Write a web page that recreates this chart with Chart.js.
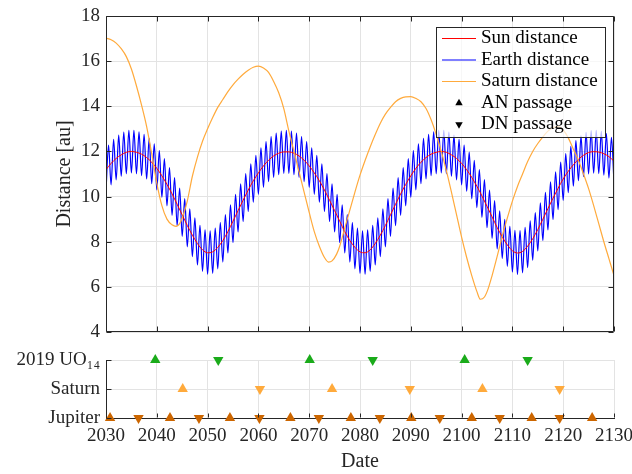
<!DOCTYPE html>
<html>
<head>
<meta charset="utf-8">
<script src="https://cdn.jsdelivr.net/npm/chart.js@4.4.1/dist/chart.umd.min.js"></script>
<style>
  html, body { margin: 0; padding: 0; background: #fff; }
  #wrap { position: relative; width: 632px; height: 474px; }
  canvas { position: absolute; left: 0; }
  #distChart { top: 0; }
  #passChart { top: 340px; }
</style>
</head>
<body>
<div id="wrap">
  <canvas id="distChart" width="632" height="340"></canvas>
  <canvas id="passChart" width="632" height="134"></canvas>
</div>
<script>
// ---- data ----
const firstYear = 2030;
const lastYear = 2130;
const xTicks = [2030, 2040, 2050, 2060, 2070, 2080, 2090, 2100, 2110, 2120, 2130];
const yTicks = [4, 6, 8, 10, 12, 14, 16, 18];

// heliocentric distance, one value per year 2030..2130
const sunDist = [
  11.19, 11.47, 11.69, 11.85, 11.96, 12.00, 11.96, 11.88, 11.73, 11.52,
  11.25, 10.92, 10.54, 10.12, 9.66, 9.19, 8.72, 8.29, 7.92, 7.64,
  7.51, 7.55, 7.75, 8.05, 8.45, 8.91, 9.38, 9.84, 10.29, 10.70,
  11.05, 11.36, 11.61, 11.80, 11.92, 11.98, 11.98, 11.92, 11.80, 11.61,
  11.36, 11.05, 10.70, 10.29, 9.84, 9.38, 8.91, 8.45, 8.05, 7.75,
  7.55, 7.51, 7.64, 7.92, 8.29, 8.72, 9.19, 9.66, 10.12, 10.54,
  10.92, 11.25, 11.52, 11.73, 11.88, 11.96, 12.00, 11.96, 11.85, 11.69,
  11.47, 11.19, 10.85, 10.46, 10.03, 9.57, 9.10, 8.63, 8.21, 7.86,
  7.60, 7.50, 7.57, 7.80, 8.13, 8.54, 9.00, 9.47, 9.93, 10.37,
  10.78, 11.12, 11.41, 11.65, 11.83, 11.95, 11.99, 11.97, 11.90, 11.77,
  11.57
];

// geocentric distance, one value per half year 2030..2130
const earthStep = 0.5;
const earthDist = [
  10.24, 12.28, 10.52, 12.53, 10.74, 12.72, 10.90, 12.86, 11.01, 12.93,
  11.05, 12.93, 11.01, 12.87, 10.93, 12.76, 10.78, 12.58, 10.57, 12.34,
  10.30, 12.04, 9.97, 11.68, 9.59, 11.28, 9.17, 10.84, 8.71, 10.38,
  8.24, 9.91, 7.77, 9.46, 7.34, 9.06, 6.97, 8.73, 6.69, 8.53,
  6.56, 8.48, 6.60, 8.60, 6.80, 8.85, 7.10, 9.20, 7.50, 9.63,
  7.96, 10.10, 8.43, 10.56, 8.89, 11.02, 9.34, 11.45, 9.75, 11.83,
  10.10, 12.16, 10.41, 12.44, 10.66, 12.66, 10.85, 12.81, 10.97, 12.90,
  11.03, 12.93, 11.03, 12.90, 10.97, 12.81, 10.85, 12.66, 10.66, 12.44,
  10.41, 12.16, 10.10, 11.83, 9.75, 11.45, 9.34, 11.02, 8.89, 10.56,
  8.43, 10.10, 7.96, 9.63, 7.50, 9.20, 7.10, 8.85, 6.80, 8.60,
  6.60, 8.48, 6.56, 8.53, 6.69, 8.73, 6.97, 9.06, 7.34, 9.46,
  7.77, 9.91, 8.24, 10.38, 8.71, 10.84, 9.17, 11.28, 9.59, 11.68,
  9.97, 12.04, 10.30, 12.34, 10.57, 12.58, 10.78, 12.76, 10.93, 12.87,
  11.01, 12.93, 11.05, 12.93, 11.01, 12.86, 10.90, 12.72, 10.74, 12.53,
  10.52, 12.28, 10.24, 11.97, 9.90, 11.61, 9.51, 11.20, 9.08, 10.75,
  8.62, 10.29, 8.15, 9.82, 7.68, 9.37, 7.26, 8.99, 6.91, 8.68,
  6.65, 8.50, 6.55, 8.49, 6.62, 8.64, 6.85, 8.92, 7.18, 9.29,
  7.59, 9.72, 8.05, 10.19, 8.52, 10.65, 8.98, 11.10, 9.42, 11.53,
  9.83, 11.90, 10.17, 12.22, 10.46, 12.48, 10.70, 12.69, 10.88, 12.84,
  11.00, 12.92, 11.04, 12.93, 11.02, 12.89, 10.95, 12.79, 10.82, 12.62,
  10.62
];

const saturnYears = [
  2030, 2031, 2032, 2033, 2034, 2035, 2036, 2037, 2038, 2039, 2040, 2041, 2042, 2043,
  2043.8, 2044.5, 2045.3,
  2046, 2047, 2048, 2049, 2050, 2051, 2052, 2053, 2054, 2055, 2056, 2057, 2058, 2059,
  2060, 2061, 2062, 2063, 2064, 2065, 2066, 2067, 2068, 2069, 2070, 2071, 2072, 2073,
  2073.8, 2074.5, 2075.4,
  2076, 2077, 2078, 2079, 2080, 2081, 2082, 2083, 2084, 2085, 2086, 2087, 2088, 2089,
  2090, 2091, 2092, 2093, 2094, 2095, 2096, 2097, 2098, 2099, 2100, 2101, 2102, 2103,
  2103.7, 2104.5, 2105.2,
  2106, 2107, 2108, 2109, 2110, 2111, 2112, 2113, 2114, 2115, 2116, 2117, 2118, 2119,
  2120, 2121, 2122, 2123, 2124, 2125, 2126, 2127, 2128, 2129, 2130
];
const saturnDist = [
  17.02, 16.95, 16.80, 16.55, 16.20, 15.65, 14.90, 14.05, 13.10, 11.90, 10.60, 9.60, 9.00, 8.75,
  8.68, 8.80, 9.25,
  9.80, 10.90, 11.75, 12.45, 13.00, 13.50, 13.95, 14.30, 14.65, 14.95, 15.20, 15.42, 15.60, 15.73,
  15.78, 15.70, 15.50, 15.10, 14.60, 13.90, 12.90, 12.00, 11.10, 10.20, 9.30, 8.45, 7.80, 7.30,
  7.10, 7.15, 7.45,
  7.80, 8.60, 9.40, 10.20, 10.95, 11.60, 12.20, 12.75, 13.25, 13.65, 13.95, 14.20, 14.35, 14.42,
  14.43, 14.35, 14.20, 13.90, 13.40, 12.75, 12.00, 11.15, 10.20, 9.20, 8.20, 7.30, 6.50, 5.80,
  5.45, 5.55, 5.90,
  6.50, 7.35, 8.25, 9.05, 9.80, 10.45, 11.00, 11.55, 12.00, 12.35, 12.65, 12.90, 13.05, 13.10,
  12.95, 12.60, 12.10, 11.60, 11.00, 10.35, 9.60, 8.80, 8.00, 7.25, 6.50
];

// node passages (year)
const levelLabels = ['Jupiter', 'Saturn', '2019 UO\u2081\u2084'];
const uoAN = [2039.7, 2070.1, 2100.6];
const uoDN = [2052.1, 2082.5, 2113.0];
const saturnAN = [2045.1, 2074.5, 2104.1];
const saturnDN = [2060.3, 2089.8, 2119.3];
const jupiterAN = [2030.8, 2042.6, 2054.4, 2066.3, 2078.2, 2090.1, 2102.0, 2113.8, 2125.7];
const jupiterDN = [2036.4, 2048.3, 2060.2, 2071.9, 2083.9, 2095.7, 2107.5, 2119.3];

const legendLabels = ['Sun distance', 'Earth distance', 'Saturn distance', 'AN passage', 'DN passage'];

// ---- styles ----
const axisColor = '#262626';
const gridColor = '#e3e3e3';
const sunColor = '#ff0000';
const earthColor = '#0000ff';
const saturnColor = '#ffaa3c';
const uoColor = '#1aab1a';
const jupiterColor = '#cc6600';

Chart.defaults.font.family = "'Liberation Serif', 'Times New Roman', serif";
Chart.defaults.color = axisColor;

function tri(ctx, x, y, r, down) {
  const s = down ? -1 : 1;
  ctx.beginPath();
  ctx.moveTo(x, y - s * r);
  ctx.lineTo(x + r * 0.866, y + s * r / 2);
  ctx.lineTo(x - r * 0.866, y + s * r / 2);
  ctx.closePath();
  ctx.fill();
}

// box + inward ticks of the upper axes
const frameTop = {
  id: 'frameTop',
  afterDatasetsDraw(chart) {
    const {ctx, chartArea: a, scales} = chart;
    ctx.save();
    ctx.strokeStyle = axisColor;
    ctx.lineWidth = 1;
    ctx.beginPath();
    const L = Math.round(a.left) + 0.5, R = Math.round(a.right) - 0.5;
    const T = Math.round(a.top) + 0.5, B = Math.round(a.bottom) - 0.5;
    ctx.rect(L, T, R - L, B - T);
    xTicks.forEach(v => {
      const px = Math.round(scales.x.getPixelForValue(v)) + 0.5;
      ctx.moveTo(px, B); ctx.lineTo(px, B - 5);
      ctx.moveTo(px, T); ctx.lineTo(px, T + 5);
    });
    yTicks.forEach(v => {
      const py = Math.round(scales.y.getPixelForValue(v)) + 0.5;
      ctx.moveTo(L, py); ctx.lineTo(L + 5, py);
      ctx.moveTo(R, py); ctx.lineTo(R - 5, py);
    });
    ctx.stroke();
    ctx.restore();
  }
};

const legendBox = {
  id: 'legendBox',
  afterDraw(chart) {
    const {ctx, chartArea: a} = chart;
    const w = 169, h = 110;
    const left = Math.round(a.right) - 9 - w;
    const top = Math.round(a.top) + 11;
    ctx.save();
    ctx.fillStyle = 'rgba(255,255,255,0.72)';
    ctx.fillRect(left, top, w, h);
    ctx.strokeStyle = axisColor;
    ctx.lineWidth = 1;
    ctx.strokeRect(left + 0.5, top + 0.5, w, h);
    const lineColors = [sunColor, earthColor, saturnColor];
    ctx.font = "19px 'Liberation Serif', serif";
    ctx.textBaseline = 'middle';
    legendLabels.forEach((txt, i) => {
      const y = top + 11.5 + i * 21.5;
      if (i < 3) {
        ctx.strokeStyle = lineColors[i];
        ctx.lineWidth = i === 2 ? 1.2 : 1.1;
        ctx.beginPath();
        ctx.moveTo(left + 6, y);
        ctx.lineTo(left + 40, y);
        ctx.stroke();
      } else {
        ctx.fillStyle = '#000';
        tri(ctx, left + 23, y, 4.3, i === 4);
      }
      ctx.fillStyle = '#000';
      ctx.fillText(txt, left + 45, y);
    });
    ctx.restore();
  }
};

// left and bottom inward ticks of the lower axes
const frameBottom = {
  id: 'frameBottom',
  afterDatasetsDraw(chart) {
    const {ctx, chartArea: a, scales} = chart;
    ctx.save();
    ctx.strokeStyle = axisColor;
    ctx.lineWidth = 1;
    ctx.beginPath();
    const L = Math.round(a.left) + 0.5, B = Math.round(a.bottom) - 0.5;
    xTicks.forEach(v => {
      const px = Math.round(scales.x.getPixelForValue(v)) + 0.5;
      ctx.moveTo(px, B); ctx.lineTo(px, B - 4);
    });
    levelLabels.forEach((lab, i) => {
      const py = Math.round(scales.y.getPixelForValue(i)) + 0.5;
      ctx.moveTo(L, py); ctx.lineTo(L + 5, py);
    });
    ctx.stroke();
    ctx.restore();
  }
};

// ---- upper chart: distances ----
new Chart(document.getElementById('distChart'), {
  type: 'line',
  data: {
    datasets: [
      {
        label: 'Saturn distance',
        data: saturnYears.map((x, i) => ({x, y: saturnDist[i]})),
        borderColor: saturnColor, borderWidth: 1.2, pointRadius: 0,
        cubicInterpolationMode: 'monotone'
      },
      {
        label: 'Sun distance',
        data: sunDist.map((y, i) => ({x: firstYear + i, y})),
        borderColor: sunColor, borderWidth: 1, pointRadius: 0,
        cubicInterpolationMode: 'monotone'
      },
      {
        label: 'Earth distance',
        data: earthDist.map((y, i) => ({x: firstYear + i * earthStep, y})),
        borderColor: earthColor, borderWidth: 1.2, pointRadius: 0,
        cubicInterpolationMode: 'monotone'
      }
    ]
  },
  options: {
    responsive: false,
    animation: false,
    events: [],
    layout: {padding: {top: 16, right: 18, left: 0, bottom: 0}},
    scales: {
      x: {
        type: 'linear', min: firstYear, max: lastYear,
        ticks: {display: false, stepSize: 10},
        grid: {color: gridColor, drawTicks: false},
        border: {display: false},
        afterFit: s => { s.height = 8; s.paddingLeft = 0; s.paddingRight = 0; }
      },
      y: {
        min: 4, max: 18,
        ticks: {stepSize: 2, padding: 6, color: axisColor, font: {size: 19}},
        grid: {color: gridColor, drawTicks: false},
        border: {display: false},
        title: {display: true, text: 'Distance [au]', color: axisColor,
                font: {size: 20}, padding: {top: 53, bottom: 0}},
        afterFit: s => { s.width = 106; s.paddingTop = 0; s.paddingBottom = 0; }
      }
    },
    plugins: {legend: {display: false}, tooltip: {enabled: false}}
  },
  plugins: [frameTop, legendBox]
});

// ---- lower chart: node passages ----
function passages(years, level, color, down) {
  return {
    data: years.map(x => ({x, y: level})),
    showLine: false,
    pointStyle: 'triangle',
    pointRotation: down ? 180 : 0,
    pointRadius: 6,
    pointBackgroundColor: color,
    pointBorderColor: color,
    pointBorderWidth: 0,
    clip: false
  };
}

new Chart(document.getElementById('passChart'), {
  type: 'scatter',
  data: {
    datasets: [
      passages(uoAN, 2, uoColor, false),
      passages(uoDN, 2, uoColor, true),
      passages(saturnAN, 1, saturnColor, false),
      passages(saturnDN, 1, saturnColor, true),
      passages(jupiterAN, 0, jupiterColor, false),
      passages(jupiterDN, 0, jupiterColor, true)
    ]
  },
  options: {
    responsive: false,
    animation: false,
    events: [],
    layout: {padding: {top: 20, right: 18, left: 0, bottom: 0}},
    scales: {
      x: {
        type: 'linear', min: firstYear, max: lastYear,
        ticks: {stepSize: 10, padding: 7, color: axisColor, font: {size: 19}, maxRotation: 0,
                callback: v => String(v)},
        grid: {color: gridColor, drawTicks: false},
        border: {display: true, color: axisColor, width: 1},
        title: {display: true, text: 'Date', color: axisColor, font: {size: 20},
                padding: {top: 0, bottom: 0}},
        afterFit: s => { s.height = 56; s.paddingLeft = 0; s.paddingRight = 0; }
      },
      y: {
        min: 0, max: 2,
        ticks: {stepSize: 1, padding: 6, color: axisColor, font: {size: 19},
                callback: v => levelLabels[v]},
        grid: {color: gridColor, drawTicks: false},
        border: {display: true, color: axisColor, width: 1},
        afterFit: s => { s.width = 106; s.paddingTop = 0; s.paddingBottom = 0; }
      }
    },
    plugins: {legend: {display: false}, tooltip: {enabled: false}}
  },
  plugins: [frameBottom]
});
</script>
</body>
</html>
